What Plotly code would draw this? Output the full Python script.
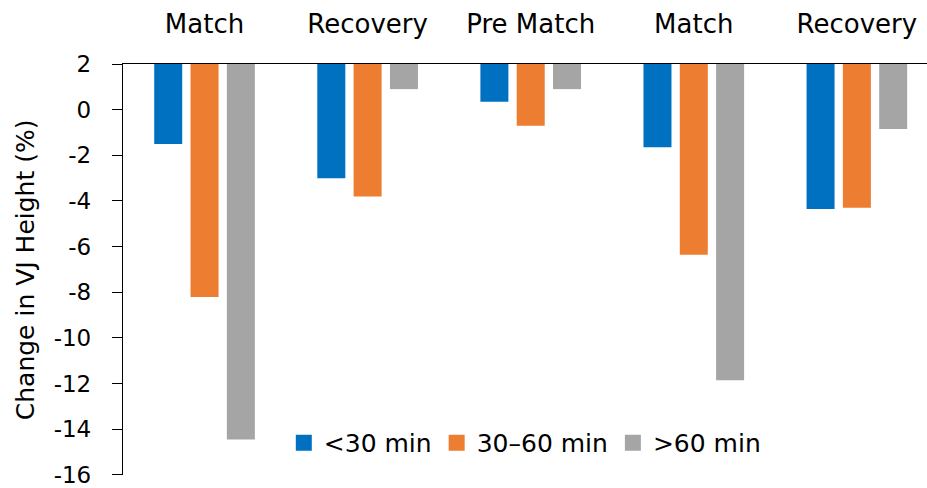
import plotly.graph_objects as go

# Phases along the category axis (shown above the plot)
phases = ["Match", "Recovery", "Pre Match", "Match ", "Recovery "]
phase_labels = ["Match", "Recovery", "Pre Match", "Match", "Recovery"]

# Change in vertical jump height (%) per time-since-activity group
under_30 = [-1.5, -3.0, 0.35, -1.65, -4.35]
from_30_to_60 = [-8.2, -3.8, -0.7, -6.35, -4.3]
over_60 = [-14.45, 0.9, 0.9, -11.85, -0.85]

series_names = ["<30 min", "30\u201360 min", ">60 min"]
series_values = [under_30, from_30_to_60, over_60]
colors = ["#0070C0", "#ED7D31", "#A5A5A5"]

# Value-axis ticks, written with a plain hyphen for negatives
y_ticks = [2, 0, -2, -4, -6, -8, -10, -12, -14, -16]
y_tick_text = [str(v) for v in y_ticks]

# Bars hang from the axis that crosses at the top of the value range
AXIS_CROSS = 2
Y_MIN = -16

FONT = "DejaVu Sans"

fig = go.Figure()

for name, vals, col in zip(series_names, series_values, colors):
    fig.add_trace(go.Bar(
        x=phases,
        y=[v - AXIS_CROSS for v in vals],
        base=[AXIS_CROSS] * len(vals),
        name=name,
        marker=dict(color=col, line=dict(width=0)),
        showlegend=False,
    ))

# Legend entries with larger square swatches
for name, col in zip(series_names, colors):
    fig.add_trace(go.Scatter(
        x=[None], y=[None], mode="markers", name=name,
        marker=dict(symbol="square", size=16, color=col),
    ))

fig.update_layout(
    width=927,
    height=488,
    margin=dict(l=123, r=0, t=64, b=10),
    paper_bgcolor="white",
    plot_bgcolor="white",
    barmode="group",
    bargap=0.332,
    bargroupgap=0.229,
    font=dict(family=FONT, color="#000000"),
    legend=dict(
        orientation="h",
        x=0.2, xanchor="left",
        y=0.078, yanchor="middle",
        font=dict(family=FONT, size=25, color="#000000"),
        bgcolor="rgba(0,0,0,0)",
        itemclick=False,
    ),
    xaxis=dict(
        side="top",
        range=[-0.5, 4.43],
        tickmode="array",
        tickvals=phases,
        ticktext=phase_labels,
        showline=True,
        linecolor="#000000",
        linewidth=1.3,
        ticks="",
        showgrid=False,
        zeroline=False,
        ticklabelstandoff=19,
        tickfont=dict(family=FONT, size=26, color="#000000"),
        fixedrange=True,
    ),
    yaxis=dict(
        range=[Y_MIN - 0.001, AXIS_CROSS],
        tickmode="array",
        tickvals=y_ticks,
        ticktext=y_tick_text,
        showline=True,
        linecolor="#000000",
        linewidth=1.3,
        ticks="outside",
        ticklen=10,
        tickwidth=1.3,
        tickcolor="#000000",
        showgrid=False,
        zeroline=False,
        ticklabelstandoff=16,
        ticklabeloverflow="allow",
        tickfont=dict(family=FONT, size=23, color="#000000"),
        fixedrange=True,
    ),
    annotations=[dict(
        text="Change in VJ Height (%)",
        xref="paper", yref="paper",
        x=-0.121, y=0.5,
        xanchor="center", yanchor="middle",
        textangle=-90,
        showarrow=False,
        font=dict(family=FONT, size=25, color="#000000"),
    )],
)

fig.write_html("out.html")
